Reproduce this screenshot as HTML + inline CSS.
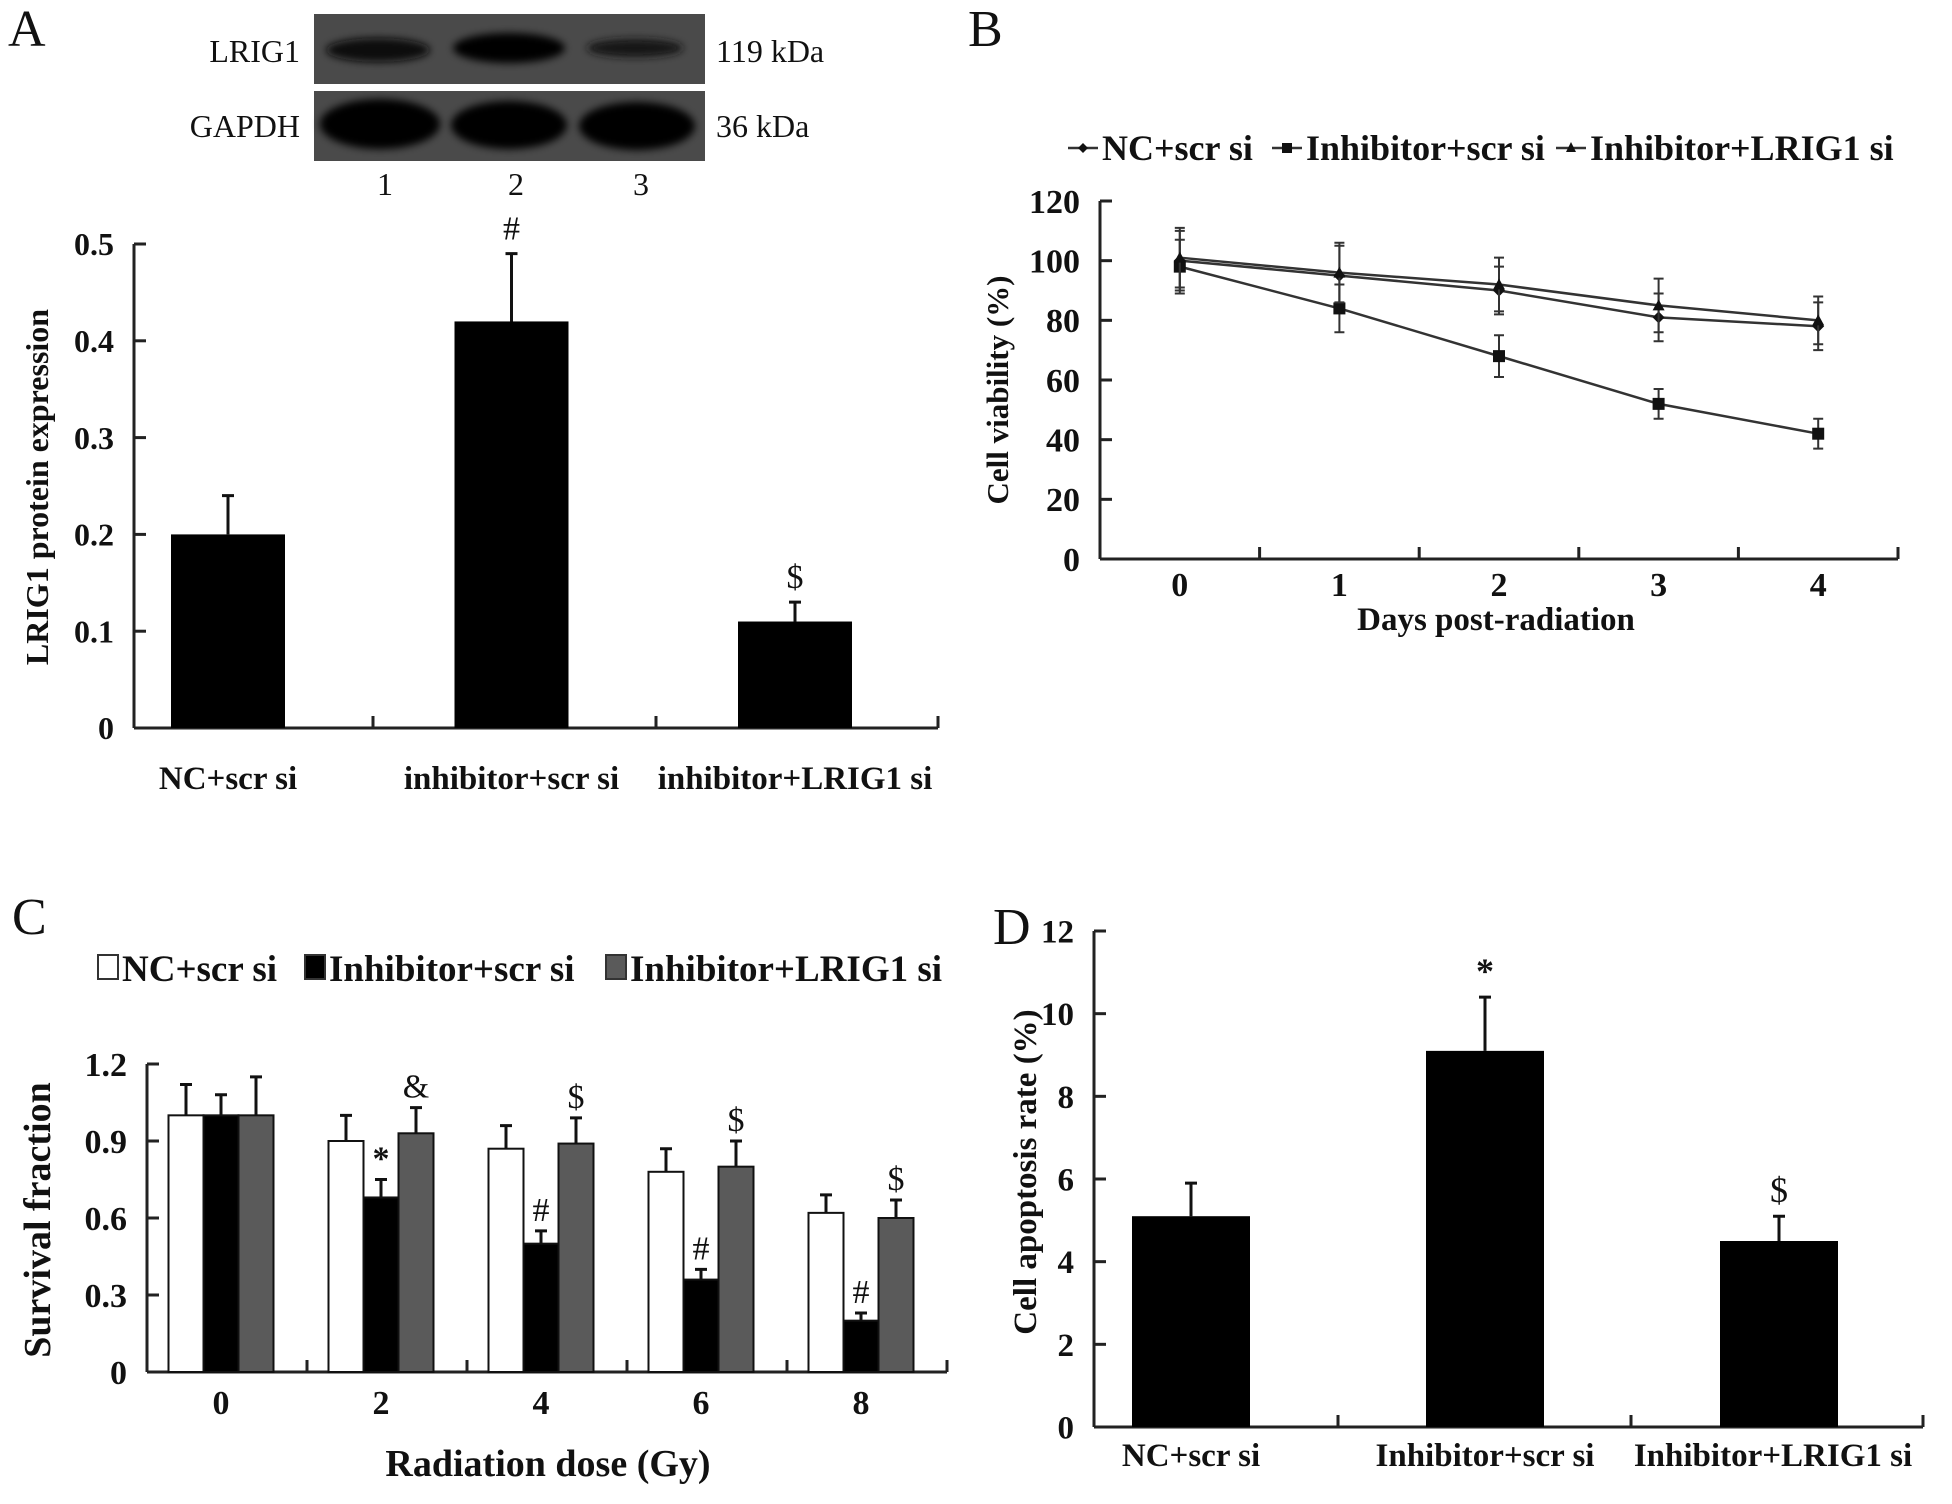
<!DOCTYPE html>
<html><head><meta charset="utf-8"><style>
html,body{margin:0;padding:0;background:#fff;}
svg{display:block;font-family:"Liberation Serif",serif;}
.t{font-weight:bold;fill:#111;}
</style></head><body>
<svg id="fig" width="1952" height="1504" viewBox="0 0 1952 1504" xmlns="http://www.w3.org/2000/svg">
<defs>
<filter id="blur" x="-20%" y="-50%" width="140%" height="200%"><feGaussianBlur stdDeviation="4"/></filter>
</defs>
<g>
<text x="8" y="46" font-size="52" fill="#111">A</text>
<g>
<rect x="314" y="14" width="391" height="70" fill="#4a4a4a"/>
<rect x="314" y="91" width="391" height="70" fill="#4a4a4a"/>
<g filter="url(#blur)">
<ellipse cx="378" cy="50" rx="52" ry="12" fill="#080808"/>
<ellipse cx="509" cy="48" rx="56" ry="15" fill="#050505"/>
<ellipse cx="635" cy="48" rx="48" ry="9" fill="#151515"/>
<ellipse cx="380" cy="124" rx="60" ry="25" fill="#000"/>
<ellipse cx="509" cy="125" rx="58" ry="24" fill="#000"/>
<ellipse cx="637" cy="126" rx="58" ry="24" fill="#000"/>
</g>
<text x="300" y="62" font-size="32" text-anchor="end" fill="#111">LRIG1</text>
<text x="300" y="137" font-size="32" text-anchor="end" fill="#111">GAPDH</text>
<text x="716" y="62" font-size="32" fill="#111">119 kDa</text>
<text x="716" y="137" font-size="32" fill="#111">36 kDa</text>
<text x="385" y="195" font-size="32" text-anchor="middle" fill="#111">1</text>
<text x="516" y="195" font-size="32" text-anchor="middle" fill="#111">2</text>
<text x="641" y="195" font-size="32" text-anchor="middle" fill="#111">3</text>
</g>
<g id="chartA"></g>
</g>
<g>
<text x="968" y="46" font-size="52" fill="#111">B</text>
<g id="chartB"></g>
</g>
<g>
<text x="12" y="934" font-size="52" fill="#111">C</text>
<g id="chartC"></g>
</g>
<g>
<text x="993" y="944" font-size="52" fill="#111">D</text>
<g id="chartD"></g>
</g>
</svg>
<script>
// Panel A data
const aCategories = ["NC+scr si", "inhibitor+scr si", "inhibitor+LRIG1 si"];
const aValues = [0.2, 0.42, 0.11];
const aErrors = [0.04, 0.07, 0.02];
const aMarks = ["", "#", "$"];
const aTicks = ["0", "0.1", "0.2", "0.3", "0.4", "0.5"];
// Panel B data
const bDays = [0, 1, 2, 3, 4];
const bSeriesNames = ["NC+scr si", "Inhibitor+scr si", "Inhibitor+LRIG1 si"];
const bNC = [100, 95, 90, 81, 78];
const bNCErr = [10, 10, 8, 8, 8];
const bInh = [98, 84, 68, 52, 42];
const bInhErr = [9, 8, 7, 5, 5];
const bLR = [101, 96, 92, 85, 80];
const bLRErr = [10, 10, 9, 9, 8];
const bTicks = ["0", "20", "40", "60", "80", "100", "120"];
// Panel C data
const cDoses = ["0", "2", "4", "6", "8"];
const cSeriesNames = ["NC+scr si", "Inhibitor+scr si", "Inhibitor+LRIG1 si"];
const cNC = [1.0, 0.9, 0.87, 0.78, 0.62];
const cNCErr = [0.12, 0.10, 0.09, 0.09, 0.07];
const cInh = [1.0, 0.68, 0.5, 0.36, 0.2];
const cInhErr = [0.08, 0.07, 0.05, 0.04, 0.03];
const cLR = [1.0, 0.93, 0.89, 0.8, 0.6];
const cLRErr = [0.15, 0.10, 0.10, 0.10, 0.07];
const cInhMarks = ["", "*", "#", "#", "#"];
const cLRMarks = ["", "&", "$", "$", "$"];
const cTicks = ["0", "0.3", "0.6", "0.9", "1.2"];
// Panel D data
const dCategories = ["NC+scr si", "Inhibitor+scr si", "Inhibitor+LRIG1 si"];
const dValues = [5.1, 9.1, 4.5];
const dErrors = [0.8, 1.3, 0.6];
const dMarks = ["", "*", "$"];
const dTicks = ["0", "2", "4", "6", "8", "10", "12"];

const NS = "http://www.w3.org/2000/svg";
function mk(parent, tag, attrs, text) {
  const e = document.createElementNS(NS, tag);
  for (const k in attrs) e.setAttribute(k, attrs[k]);
  if (text !== undefined) e.textContent = text;
  parent.appendChild(e);
  return e;
}
function lin(d0, d1, r0, r1) { return v => r0 + (v - d0) / (d1 - d0) * (r1 - r0); }

function yAxis(g, x, y, ticks, fs, name) {
  let e = mk(g, "line", {x1: x, y1: y(+ticks[ticks.length-1]), x2: x, y2: y(0), stroke: "#222", "stroke-width": 3});
  
  
  ticks.forEach(t => {
    const v = +t;
    let l = mk(g, "line", {x1: x, x2: x + 12, y1: y(v), y2: y(v), stroke: "#222", "stroke-width": 3});
    
    
    let tx = mk(g, "text", {x: x - 20, y: y(v) + fs * 0.35, "font-size": fs, "text-anchor": "end", class: "t"}, t);
    
    
  });
}
function xAxisLine(g, x0, x1, y0, tickXs, name) {
  let e = mk(g, "line", {x1: x0, x2: x1, y1: y0, y2: y0, stroke: "#222", "stroke-width": 3});
  
  
  tickXs.forEach(tx => {
    let l = mk(g, "line", {x1: tx, x2: tx, y1: y0, y2: y0 - 12, stroke: "#222", "stroke-width": 3});
    
    
  });
}
function errBar(g, cx, y1, y2, name) {
  let l = mk(g, "path", {d: `M${cx},${y1}V${y2}M${cx-6},${y2}H${cx+6}`, stroke: "#111", "stroke-width": 3, fill: "none"});
  
  
}
function ytitle(g, x, y, fs, txt, name) {
  let t = mk(g, "text", {x: x, y: y, "font-size": fs, "text-anchor": "middle", class: "t", transform: `rotate(-90 ${x} ${y})`}, txt);
  
  
}

// ---------- Chart A
(function(){
  const g = document.getElementById("chartA");
  const X0 = 134, X1 = 938, Y0 = 728, Ytop = 244;
  const y = lin(0, 0.5, Y0, Ytop);
  const bw = 114;
  yAxis(g, X0, y, aTicks, 32, "chart-a");
  xAxisLine(g, X0, X1, Y0, [373, 656, 938], "chart-a");
  aCategories.forEach((c, i) => {
    const cx = 228 + i * 283.5;
    let r = mk(g, "rect", {x: cx - bw/2, y: y(aValues[i]), width: bw, height: Y0 - y(aValues[i]), fill: "#000"});
    
    
    errBar(g, cx, y(aValues[i]), y(aValues[i] + aErrors[i]), 'error-bar-a-' + (i+1));
    if (aMarks[i]) {
      let m = mk(g, "text", {x: cx, y: y(aValues[i] + aErrors[i]) - 14, "font-size": 34, "text-anchor": "middle", fill: "#111"}, aMarks[i]);
      
      
    }
    let t = mk(g, "text", {x: cx + (i===2?0:0), y: 789, "font-size": 33, "text-anchor": "middle", class: "t"}, c);
    
    
  });
  ytitle(g, 48, 487, 32, "LRIG1 protein expression", "y-axis-title-a");
})();

// ---------- Chart B
(function(){
  const g = document.getElementById("chartB");
  const X0 = 1100, X1 = 1898, Y0 = 559, Ytop = 201;
  const x = lin(-0.5, 4.5, X0, X1);
  const y = lin(0, 120, Y0, Ytop);
  yAxis(g, X0, y, bTicks, 34, "chart-b");
  xAxisLine(g, X0, X1, Y0, bDays.map(d => x(d + 0.5)), "chart-b");
  bDays.forEach(d => {
    let t = mk(g, "text", {x: x(d), y: 596, "font-size": 34, "text-anchor": "middle", class: "t"}, String(d));
    
    
  });
  const series = [[bNC, bNCErr, "diamond"], [bInh, bInhErr, "square"], [bLR, bLRErr, "triangle"]];
  series.forEach((s, si) => {
    const pts = s[0].map((v, i) => x(bDays[i]) + "," + y(v)).join(" ");
    let pl = mk(g, "polyline", {points: pts, fill: "none", stroke: "#333", "stroke-width": 2.5});
    
    
    s[0].forEach((v, i) => {
      const cx = x(bDays[i]);
      let eb = mk(g, "path", {d: `M${cx},${y(v - s[1][i])}V${y(v + s[1][i])}M${cx-5},${y(v - s[1][i])}H${cx+5}M${cx-5},${y(v + s[1][i])}H${cx+5}`, stroke: "#333", "stroke-width": 2, fill: "none"});
      
      
      let mrk;
      if (s[2] === "square") mrk = mk(g, "rect", {x: cx - 6, y: y(v) - 6, width: 12, height: 12, fill: "#111"});
      else if (s[2] === "diamond") mrk = mk(g, "path", {d: `M${cx},${y(v)-6}L${cx+6},${y(v)}L${cx},${y(v)+6}L${cx-6},${y(v)}Z`, fill: "#111"});
      else mrk = mk(g, "path", {d: `M${cx},${y(v)-6}L${cx+6},${y(v)+5}L${cx-6},${y(v)+5}Z`, fill: "#111"});
      
      
    });
  });
  const lx = [1068, 1272, 1556];
  bSeriesNames.forEach((n, i) => {
    const lg = mk(g, "g", {});
    
    
    mk(lg, "line", {x1: lx[i], x2: lx[i] + 30, y1: 148, y2: 148, stroke: "#333", "stroke-width": 2.5});
    const c = lx[i] + 15;
    if (i === 1) mk(lg, "rect", {x: c - 5, y: 143, width: 10, height: 10, fill: "#111"});
    else if (i === 0) mk(lg, "path", {d: `M${c},143L${c+5},148L${c},153L${c-5},148Z`, fill: "#111"});
    else mk(lg, "path", {d: `M${c},142L${c+5},152L${c-5},152Z`, fill: "#111"});
    mk(lg, "text", {x: lx[i] + 34, y: 160, "font-size": 36, class: "t"}, n);
  });
  let xt = mk(g, "text", {x: 1496, y: 630, "font-size": 33, "text-anchor": "middle", class: "t"}, "Days post-radiation");
  
  
  ytitle(g, 1008, 390, 31, "Cell viability (%)", "y-axis-title-b");
})();

// ---------- Chart C
(function(){
  const g = document.getElementById("chartC");
  const X0 = 147, X1 = 947, Y0 = 1372, Ytop = 1064;
  const y = lin(0, 1.2, Y0, Ytop);
  const slot = (X1 - X0) / cDoses.length;
  const bw = 35;
  yAxis(g, X0, y, cTicks, 34, "chart-c");
  xAxisLine(g, X0, X1, Y0, cDoses.map((d, i) => X0 + slot * (i + 1)), "chart-c");
  const series = [[cNC, cNCErr, "#fff", "nc"], [cInh, cInhErr, "#000", "inhibitor"], [cLR, cLRErr, "#5a5a5a", "lrig1"]];
  cDoses.forEach((d, i) => {
    const gc = X0 + slot * (i + 0.5) - 6;
    series.forEach((s, si) => {
      const bx = gc - 1.5 * bw + si * bw;
      const v = s[0][i];
      let r = mk(g, "rect", {x: bx, y: y(v), width: bw, height: Y0 - y(v), fill: s[2], stroke: "#111", "stroke-width": 2});
      
      
      errBar(g, bx + bw/2, y(v), y(v + s[1][i]), 'error-bar-c');
      const mark = si === 1 ? cInhMarks[i] : (si === 2 ? cLRMarks[i] : "");
      if (mark) {
        let m = mk(g, "text", {x: bx + bw/2, y: y(v + s[1][i]) - 10, "font-size": 34, "text-anchor": "middle", fill: "#111", "font-weight": mark === "*" ? "bold" : "normal"}, mark);
        
        
      }
    });
    let t = mk(g, "text", {x: gc, y: 1414, "font-size": 34, "text-anchor": "middle", class: "t"}, d);
    
    
  });
  const lx = [98, 305, 606];
  const fills = ["#fff", "#000", "#5a5a5a"];
  cSeriesNames.forEach((n, i) => {
    const lg = mk(g, "g", {});
    
    
    mk(lg, "rect", {x: lx[i], y: 955, width: 20, height: 24, fill: fills[i], stroke: "#333", "stroke-width": 2});
    mk(lg, "text", {x: lx[i] + 24, y: 981, "font-size": 37, class: "t"}, n);
  });
  let xt = mk(g, "text", {x: 548, y: 1476, "font-size": 38, "text-anchor": "middle", class: "t"}, "Radiation dose (Gy)");
  
  
  ytitle(g, 50, 1220, 38, "Survival fraction", "y-axis-title-c");
})();

// ---------- Chart D
(function(){
  const g = document.getElementById("chartD");
  const X0 = 1094, X1 = 1923, Y0 = 1427, Ytop = 931;
  const y = lin(0, 12, Y0, Ytop);
  const bw = 118;
  yAxis(g, X0, y, dTicks, 33, "chart-d");
  xAxisLine(g, X0, X1, Y0, [1338, 1631, 1923], "chart-d");
  dCategories.forEach((c, i) => {
    const cx = 1191 + i * 294;
    let r = mk(g, "rect", {x: cx - bw/2, y: y(dValues[i]), width: bw, height: Y0 - y(dValues[i]), fill: "#000"});
    
    
    errBar(g, cx, y(dValues[i]), y(dValues[i] + dErrors[i]), 'error-bar-d-' + (i+1));
    if (dMarks[i]) {
      let m = mk(g, "text", {x: cx, y: y(dValues[i] + dErrors[i]) - 14, "font-size": 36, "text-anchor": "middle", fill: "#111", "font-weight": dMarks[i] === "*" ? "bold" : "normal"}, dMarks[i]);
      
      
    }
    let t = mk(g, "text", {x: cx + (i===2?-6:0), y: 1466, "font-size": 33, "text-anchor": "middle", class: "t"}, c);
    
    
  });
  ytitle(g, 1036, 1172, 33, "Cell apoptosis rate (%)", "y-axis-title-d");
})();
</script>
</body></html>
